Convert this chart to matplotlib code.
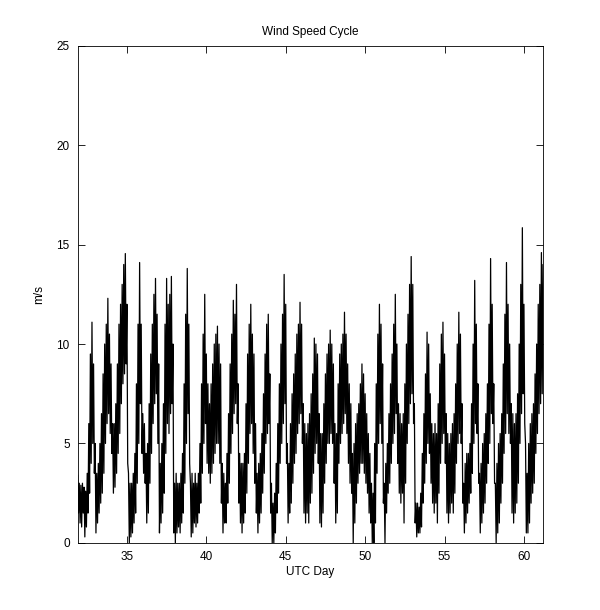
import numpy as np
import matplotlib
matplotlib.use('Agg')
from matplotlib import pyplot as plt

# wind speed (m/s) every 0.1 day from day 31.9:
# upper and lower edge of the trace, one row per UTC day (D.0 ... D.9)
start_day = 31.9
step_day = 0.1

speed_hi = [3.4] + [
    3.0, 2.9, 3.0, 2.8, 2.6, 3.5, 6.0, 9.5, 11.1, 9.0,        # 32
    5.0, 3.5, 4.0, 5.0, 6.5, 8.5, 10.0, 11.0, 12.3, 10.5,     # 33
    9.0, 6.0, 6.0, 7.0, 9.0, 11.0, 12.0, 13.0, 14.0, 14.55,   # 34
    12.0, 3.5, 3.0, 3.0, 3.5, 4.5, 8.0, 11.0, 14.1, 11.0,     # 35
    6.5, 6.0, 4.5, 5.0, 7.0, 9.5, 11.0, 12.5, 13.3, 11.5,     # 36
    9.0, 4.0, 5.0, 7.0, 11.0, 13.3, 12.0, 12.5, 13.4, 10.0,   # 37
    3.0, 3.5, 3.0, 3.0, 3.5, 4.5, 8.0, 11.5, 13.8, 11.0,      # 38
    3.0, 3.5, 3.0, 3.5, 3.0, 3.5, 5.0, 8.0, 10.5, 12.5,       # 39
    9.5, 8.0, 7.0, 8.0, 9.0, 10.0, 10.5, 10.9, 10.0, 9.0,     # 40
    4.0, 3.5, 3.0, 4.5, 6.5, 9.0, 10.5, 12.2, 11.5, 13.0,     # 41
    8.0, 4.5, 4.0, 4.0, 4.5, 7.0, 9.5, 11.0, 12.0, 10.5,      # 42
    9.5, 6.0, 3.5, 4.0, 4.5, 5.5, 7.5, 9.5, 11.0, 11.5,       # 43
    8.5, 3.0, 2.0, 2.5, 4.0, 6.0, 8.0, 10.0, 11.5, 13.5,      # 44
    12.0, 5.0, 4.0, 6.0, 7.5, 8.5, 9.5, 10.5, 11.0, 12.1,     # 45
    11.0, 7.0, 6.0, 5.5, 6.0, 6.5, 7.5, 8.5, 10.3, 10.0,      # 46
    9.5, 6.5, 5.5, 5.5, 7.0, 8.5, 9.5, 10.0, 10.7, 10.0,      # 47
    9.0, 6.0, 5.5, 8.0, 9.5, 10.0, 10.5, 11.6, 10.5, 9.0,     # 48
    8.0, 7.0, 4.5, 5.0, 6.0, 6.5, 7.0, 8.0, 9.0, 8.5,         # 49
    7.5, 6.5, 5.5, 4.5, 3.0, 2.5, 5.0, 8.0, 10.5, 12.0,       # 50
    11.0, 9.0, 3.0, 4.0, 5.0, 6.5, 8.0, 9.5, 11.0, 12.5,      # 51
    10.0, 7.0, 6.5, 6.0, 6.5, 8.0, 10.0, 11.5, 13.0, 14.4,    # 52
    13.0, 7.0, 2.0, 2.0, 1.8, 2.5, 4.5, 6.5, 8.5, 10.6,       # 53
    10.0, 7.5, 6.0, 5.5, 6.0, 5.5, 7.0, 9.0, 10.5, 11.1,      # 54
    9.5, 6.5, 5.5, 5.0, 5.5, 6.0, 6.5, 8.0, 10.0, 11.6,       # 55
    10.5, 7.0, 3.0, 4.0, 4.5, 4.5, 5.0, 7.0, 10.0, 13.2,      # 56
    11.0, 8.0, 3.5, 4.0, 5.0, 5.5, 6.5, 8.0, 11.0, 14.3,      # 57
    12.0, 8.0, 3.0, 4.0, 5.0, 5.5, 6.5, 9.0, 11.5, 14.1,      # 58
    12.0, 10.0, 7.0, 6.5, 6.0, 6.5, 7.5, 10.0, 13.0, 15.85,   # 59
    12.0, 5.0, 3.5, 5.0, 6.0, 6.5, 7.0, 8.5, 10.0, 12.0,      # 60
    13.0, 14.6, 14.0,                                         # 61
]

speed_lo = [1.5] + [
    1.0, 0.8, 1.5, 0.3, 0.8, 1.5, 2.5, 4.0, 5.0, 3.5,         # 32
    0.5, 1.0, 1.5, 2.0, 2.5, 3.5, 5.0, 6.0, 6.5, 5.5,         # 33
    4.5, 2.5, 2.8, 3.5, 4.5, 5.5, 7.0, 8.0, 8.5, 9.0,         # 34
    4.0, 0.0, 0.3, 0.5, 1.0, 1.5, 3.0, 5.0, 7.0, 4.5,         # 35
    3.5, 3.0, 1.0, 1.5, 3.0, 4.5, 6.0, 7.0, 7.5, 5.0,         # 36
    0.5, 1.0, 1.5, 2.5, 4.5, 6.0, 5.5, 6.5, 7.0, 0.5,         # 37
    0.0, 0.5, 0.8, 0.5, 1.0, 1.5, 3.0, 5.0, 6.5, 4.0,         # 38
    0.3, 0.5, 1.0, 0.8, 1.0, 1.5, 2.0, 3.5, 5.0, 6.0,         # 39
    4.0, 3.5, 3.0, 3.5, 4.0, 4.5, 5.0, 5.0, 4.0, 2.0,         # 40
    0.5, 1.0, 1.0, 2.0, 3.0, 4.5, 5.5, 6.5, 7.0, 6.0,         # 41
    2.0, 1.0, 0.5, 1.0, 1.5, 2.5, 4.0, 5.5, 6.0, 4.5,         # 42
    3.0, 1.5, 0.5, 1.0, 1.5, 2.5, 3.5, 5.0, 5.5, 6.0,         # 43
    1.5, 0.0, 0.0, 0.5, 1.5, 2.5, 4.0, 5.0, 6.0, 7.0,         # 44
    4.0, 1.0, 1.5, 2.0, 3.0, 4.0, 4.5, 5.5, 6.0, 6.5,         # 45
    5.0, 1.5, 1.0, 1.5, 1.0, 2.0, 2.5, 3.5, 4.5, 5.0,         # 46
    4.0, 1.0, 0.8, 1.5, 3.0, 4.0, 5.0, 5.0, 5.5, 5.0,         # 47
    3.0, 1.0, 1.5, 4.0, 5.0, 5.5, 6.0, 6.5, 5.5, 4.0,         # 48
    3.0, 2.5, 0.0, 1.0, 2.0, 3.0, 3.5, 4.0, 4.0, 3.5,         # 49
    3.0, 2.5, 1.5, 1.0, 0.0, 0.0, 1.0, 3.5, 5.0, 6.0,         # 50
    5.0, 2.0, 0.0, 1.5, 2.5, 3.0, 4.0, 5.0, 5.5, 6.5,         # 51
    4.0, 2.5, 2.0, 2.5, 1.0, 3.0, 5.0, 6.0, 7.0, 7.5,         # 52
    6.0, 1.0, 0.3, 0.5, 0.5, 0.8, 2.0, 3.0, 4.0, 5.0,         # 53
    4.5, 3.0, 2.0, 1.5, 2.0, 1.0, 2.5, 4.0, 5.0, 5.5,         # 54
    4.0, 1.5, 1.0, 1.5, 2.0, 1.5, 2.5, 4.0, 5.0, 5.5,         # 55
    5.0, 2.0, 0.5, 1.0, 1.5, 2.0, 2.5, 3.5, 5.0, 6.0,         # 56
    5.5, 3.0, 0.5, 1.0, 1.5, 2.0, 3.0, 4.0, 5.0, 6.5,         # 57
    6.0, 3.0, 0.0, 0.5, 1.0, 2.0, 3.0, 4.5, 5.5, 6.5,         # 58
    5.5, 5.0, 1.5, 1.0, 1.5, 2.0, 3.0, 5.0, 6.5, 7.5,         # 59
    6.0, 0.5, 0.5, 1.0, 2.0, 2.5, 3.0, 4.5, 5.5, 6.5,         # 60
    7.0, 7.5, 8.0,                                            # 61
]

x_ticks = [35, 40, 45, 50, 55, 60]
y_ticks = [0, 5, 10, 15, 20, 25]

# the trace swings between its upper and lower edge between samples
n = len(speed_hi)
days = start_day + step_day * np.arange(n)
utc_day = np.empty(2 * n)
speed = np.empty(2 * n)
utc_day[0::2] = days
utc_day[1::2] = days + step_day / 2
speed[0::2] = speed_hi
speed[1::2] = speed_lo

plt.rcParams['font.family'] = ['Liberation Sans', 'DejaVu Sans']
plt.rcParams['font.size'] = 8.5

fig = plt.figure(figsize=(6.0, 6.1), dpi=100)
ax = fig.add_axes([0.13, 0.11, 0.775, 0.815])
ax.plot(utc_day, speed, color='black', linewidth=0.9)

ax.set_xlim(31.92, 61.2)
ax.set_ylim(0, 25)
ax.set_xticks(x_ticks)
ax.set_yticks(y_ticks)
ax.tick_params(direction='in', top=True, right=True, length=5, width=0.6, pad=6)
for s in ax.spines.values():
    s.set_linewidth(0.6)

ax.set_title('Wind Speed Cycle', fontsize=8.5, pad=8)
ax.set_xlabel('UTC Day', labelpad=2)
ax.set_ylabel('m/s', labelpad=8)

fig.savefig('out.png', dpi=100, facecolor='white')
